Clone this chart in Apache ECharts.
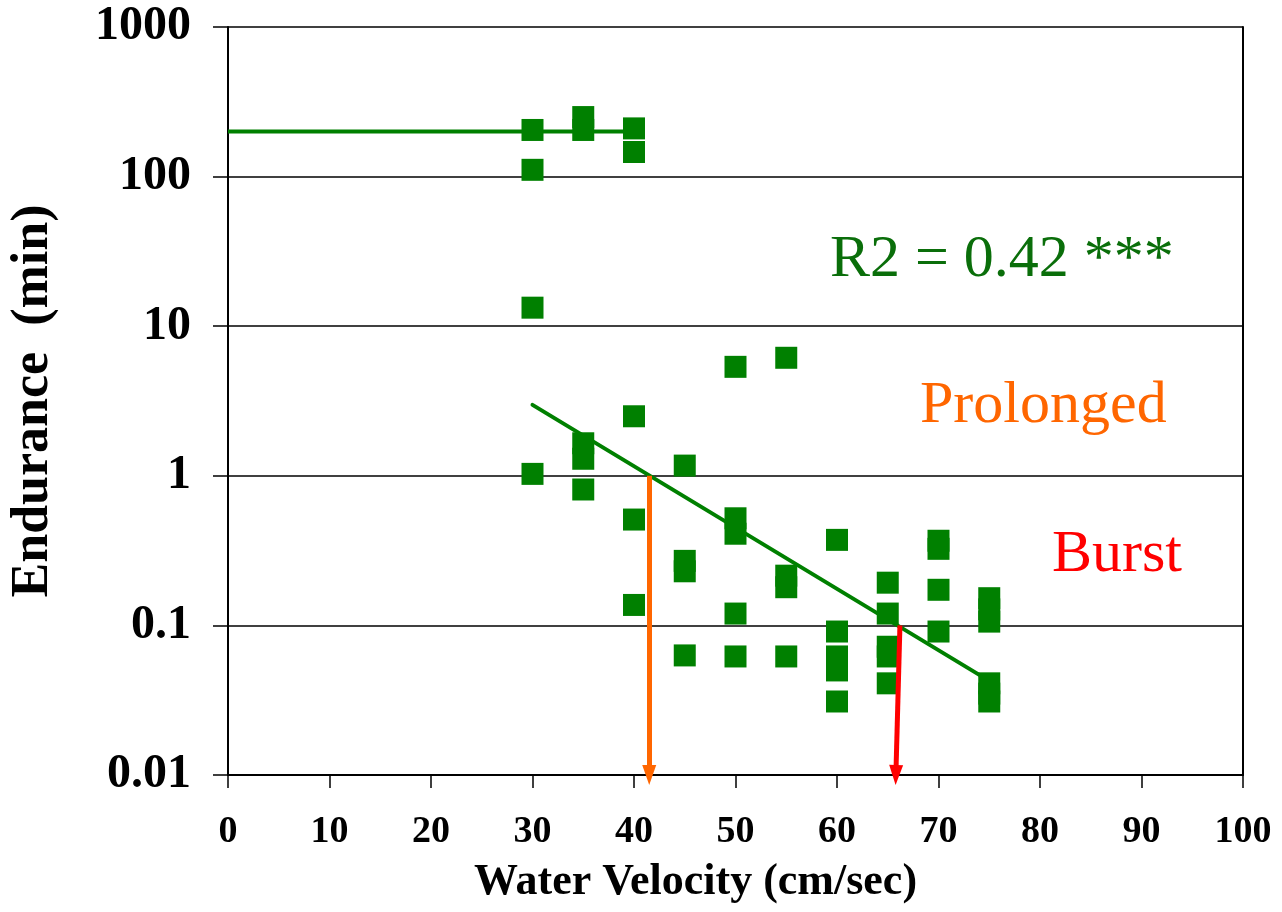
<!DOCTYPE html>
<html>
<head>
<meta charset="utf-8">
<script src="https://cdn.jsdelivr.net/npm/echarts@6/dist/echarts.min.js"></script>
<style>
html,body{margin:0;padding:0;background:#fff;}
#chart{width:1282px;height:912px;}
</style>
</head>
<body>
<div id="chart"></div>
<script>
// Observations: water velocity (cm/sec) and endurance (min)
const velocity = [30,30,30,30, 35,35,35,35,35, 40,40,40,40,40, 45,45,45,45, 50,50,50,50,50, 55,55,55,55, 60,60,60,60,60, 65,65,65,65,65, 70,70,70,70, 75,75,75,75,75,75];
const endurance = [205,111,13.3,1.03, 250,205,1.65,1.3,0.81, 210,146,2.5,0.51,0.137, 1.17,0.27,0.23,0.063, 5.35,0.52,0.41,0.12,0.062, 6.15,0.215,0.18,0.062, 0.373,0.091,0.062,0.05,0.031, 0.193,0.12,0.072,0.062,0.041, 0.368,0.325,0.173,0.091, 0.152,0.128,0.106,0.041,0.035,0.031];

// Fitted lines
const upperFitX = [0, 40];
const upperFitY = [200, 200];
const lowerFitX = [30, 75];
const lowerFitY = [2.98, 0.0426];

// Threshold arrows
const prolongedArrow = [[41.5, 1], [41.5, 0.01]];
const burstArrow = [[66.2, 0.1], [65.8, 0.01]];

const xTicks = [0,10,20,30,40,50,60,70,80,90,100];
const yTickLabels = {'0.01':'0.01','0.1':'0.1','1':'1','10':'10','100':'100','1000':'1000'};

const scatterData = velocity.map((v,i)=>[v, endurance[i]]);
const zip = (a,b)=>a.map((v,i)=>[v,b[i]]);

const chart = echarts.init(document.getElementById('chart'));
const serif = '"Liberation Serif", "Times New Roman", serif';

chart.setOption({
  animation: false,
  backgroundColor: '#fff',
  grid: {left: 227, right: 39, top: 27, bottom: 137, containLabel: false},
  xAxis: {
    type: 'value', min: 0, max: 100, interval: 10,
    name: 'Water Velocity (cm/sec)', nameLocation: 'middle', nameGap: 86,
    nameTextStyle: {fontFamily: serif, fontWeight: 'bold', fontSize: 44, color: '#000', padding: [0, 80, 0, 0]},
    axisLine: {show: true, lineStyle: {color: '#000', width: 2}},
    axisTick: {show: true, length: 13, lineStyle: {color: '#000', width: 1.5}},
    axisLabel: {fontFamily: serif, fontWeight: 'bold', fontSize: 38, color: '#000', margin: 38,
      formatter: v => xTicks.includes(v) ? String(v) : ''},
    splitLine: {show: false}
  },
  yAxis: [{
    type: 'log', logBase: 10, min: 0.01, max: 1000,
    name: 'Endurance  (min)', nameLocation: 'middle', nameGap: 168, nameRotate: 90,
    nameTextStyle: {fontFamily: serif, fontWeight: 'bold', fontSize: 52, color: '#000'},
    axisLine: {show: true, lineStyle: {color: '#000', width: 2}},
    axisTick: {show: true, length: 15, lineStyle: {color: '#000', width: 1.5}},
    axisLabel: {fontFamily: serif, fontWeight: 'bold', fontSize: 48, color: '#000', margin: 37,
      formatter: v => { const k = String(+v.toPrecision(3)); return yTickLabels[k] !== undefined ? yTickLabels[k] : k; }},
    splitLine: {show: true, lineStyle: {color: '#000', width: 1.5}}
  }, {
    type: 'log', logBase: 10, min: 0.01, max: 1000, position: 'right',
    axisLine: {show: true, onZero: false, lineStyle: {color: '#000', width: 2}},
    axisTick: {show: false}, axisLabel: {show: false}, splitLine: {show: false}
  }],
  series: [
    {
      type: 'line', data: zip(upperFitX, upperFitY), showSymbol: false, symbol: 'none',
      lineStyle: {color: '#008000', width: 4}, z: 3
    },
    {
      type: 'line', data: zip(lowerFitX, lowerFitY), showSymbol: false, symbol: 'none',
      lineStyle: {color: '#008000', width: 4, cap: 'round'}, z: 3
    },
    {
      type: 'scatter', data: scatterData, symbol: 'rect', symbolSize: 22,
      itemStyle: {color: '#008000', opacity: 1}, z: 2
    },
    {
      type: 'line', data: [], symbol: 'none',
      markLine: {
        silent: true, symbol: ['none', 'triangle'], symbolSize: [14, 20],
        label: {show: false},
        data: [
          [{coord: prolongedArrow[0], lineStyle: {color: '#ff6600', width: 5, type: 'solid'}, itemStyle:{color:'#ff6600'}},
           {coord: prolongedArrow[1]}],
          [{coord: burstArrow[0], lineStyle: {color: '#ff0000', width: 5, type: 'solid'}, itemStyle:{color:'#ff0000'}},
           {coord: burstArrow[1]}]
        ]
      }, z: 4
    }
  ],
  graphic: [
    {type: 'text', left: 830, top: 230, style: {text: 'R2 = 0.42 ***', font: '60px ' + serif, fill: '#0a6e0a'}},
    {type: 'text', left: 920, top: 376, style: {text: 'Prolonged', font: '60px ' + serif, fill: '#ff6600'}},
    {type: 'text', left: 1052, top: 525, style: {text: 'Burst', font: '60px ' + serif, fill: '#ff0000'}}
  ]
});
</script>
</body>
</html>
